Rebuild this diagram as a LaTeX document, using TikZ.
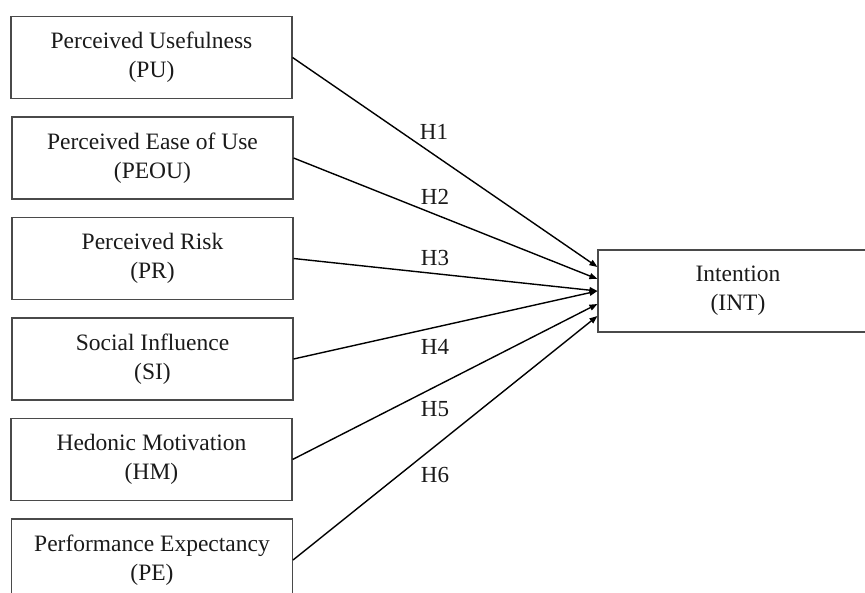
\documentclass[tikz,border=0pt]{standalone}
\usepackage{fontspec}
\setmainfont{Liberation Serif}
\usetikzlibrary{arrows.meta,calc}
\definecolor{boxgray}{HTML}{4A4A4A}
\definecolor{txt}{HTML}{1A1A1A}
\begin{document}
\begin{tikzpicture}[x=1pt,y=-1pt,
  cbox/.style={draw=boxgray,line width=1.1pt,minimum width=281pt,minimum height=82pt,
    align=center,inner sep=0pt,text=txt,font=\fontsize{23.5}{29}\selectfont,
    execute at begin node={\rule{0pt}{27pt}}},
  hyp/.style={text=txt,font=\fontsize{23}{26}\selectfont,inner sep=0pt},
  link/.style={line width=1.4pt,-{Triangle[length=8pt,width=6pt]}}]
\useasboundingbox (0,0) rectangle (865,593);
\node[cbox] (pu)   at (151.5,57.5) {Perceived Usefulness\\(PU)};
\node[cbox] (peou) at (152.5,158)  {Perceived Ease of Use\\(PEOU)};
\node[cbox] (pr)   at (152.5,258.5){Perceived Risk\\(PR)};
\node[cbox] (si)   at (152.5,359)  {Social Influence\\(SI)};
\node[cbox] (hm)   at (151.5,459.5){Hedonic Motivation\\(HM)};
\node[cbox] (pe)   at (152,560)    {Performance Expectancy\\(PE)};
\node[cbox,minimum width=280pt] (int) at (738,291) {Intention\\(INT)};
\draw[link] (pu.east)   -- ($(int.west)+(0,-24)$);
\draw[link] (peou.east) -- ($(int.west)+(0,-12)$);
\draw[link] (pr.east)   -- ($(int.west)+(0,0)$);
\draw[link] (si.east)   -- ($(int.west)+(0,0)$);
\draw[link] (hm.east)   -- ($(int.west)+(0,13)$);
\draw[link] (pe.east)   -- ($(int.west)+(0,25)$);
\node[hyp] (h1) at (434,132) {H1};
\node[hyp] (h2) at (435,197) {H2};
\node[hyp] (h3) at (435,258) {H3};
\node[hyp] (h4) at (435,347) {H4};
\node[hyp] (h5) at (435,409) {H5};
\node[hyp] (h6) at (435,475) {H6};
\end{tikzpicture}
\end{document}
